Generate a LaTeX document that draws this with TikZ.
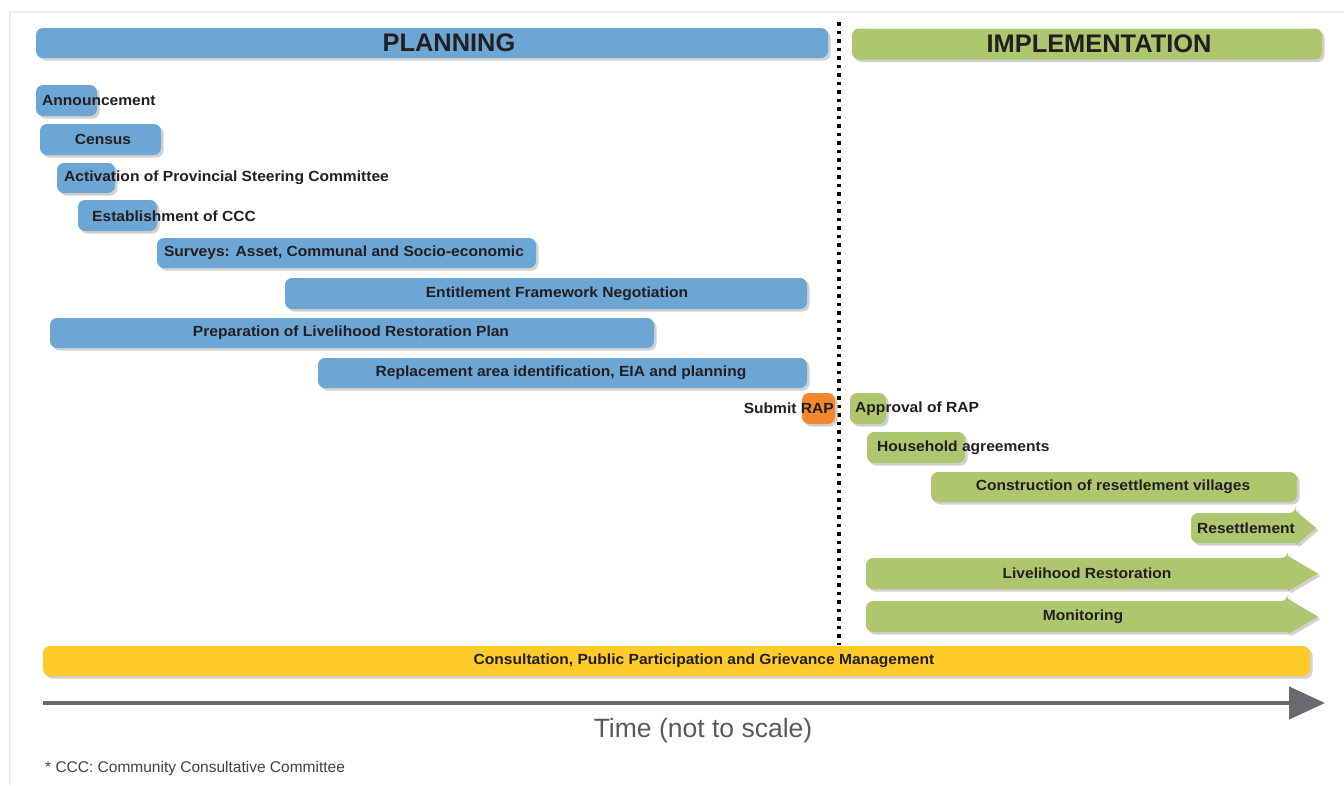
\documentclass[tikz,border=0pt]{standalone}
\usepackage{fontspec}
\setmainfont{Liberation Sans}
\newfontfamily\wideflt[FakeStretch=1.06]{Liberation Sans}
\usetikzlibrary{shadows,arrows.meta}
\definecolor{pblue}{RGB}{108,166,212}
\definecolor{igreen}{RGB}{174,199,110}
\definecolor{rorange}{RGB}{244,134,45}
\definecolor{cyellow}{RGB}{254,203,43}
\definecolor{txt}{RGB}{35,31,32}
\definecolor{axisgray}{RGB}{105,106,110}
\definecolor{framegray}{RGB}{236,236,236}
\tikzset{
  shad/.style={general shadow={fill=black!18, shadow xshift=2.5pt, shadow yshift=-2.5pt}},
  bar/.style={shad, rounded corners=7pt, inner sep=0pt, minimum height=31pt},
  bluebar/.style={bar, fill=pblue},
  greenbar/.style={bar, fill=igreen},
  lbl/.style={inner sep=0pt, text=txt, font=\wideflt\fontsize{14.7}{17}\selectfont\bfseries},
  head/.style={inner sep=0pt, text=txt, font=\fontsize{25.4}{30}\selectfont\bfseries},
}
\begin{document}
\begin{tikzpicture}[x=1pt,y=-1pt]
\useasboundingbox (0,0) rectangle (1344,785);
\fill[white] (0,0) rectangle (1344,785);
\draw[framegray, line width=1.5pt] (10,785) -- (10,12) -- (1344,12);

% phase headers
\node[bluebar, minimum width=792pt, minimum height=30pt] (plan) at (432,43) {};
\node[head] (plant) at (449,43) {PLANNING};
\node[greenbar, minimum width=470pt] (impl) at (1087,44) {};
\node[head] (implt) at (1099,44) {IMPLEMENTATION};

% divider
\coordinate (dtop) at (839,22);
\coordinate (dbot) at (839,645);
\draw[black, line width=3.5pt, dash pattern=on 3.5pt off 5pt] (dtop) -- (dbot);

% planning bars
\node[bluebar, minimum width=61pt] (ann) at (66.5,100.5) {};
\node[lbl, anchor=west] (annt) at (42,100.5) {Announcement};
\node[bluebar, minimum width=121pt] (cen) at (100.5,139.5) {};
\node[lbl] (cent) at (103,139.5) {Census};
\node[bluebar, minimum width=58pt, minimum height=30pt] (act) at (86,178) {};
\node[lbl, anchor=west] (actt) at (64,178) {Activation of Provincial Steering Committee};
\node[bluebar, minimum width=79pt] (est) at (117.5,215.5) {};
\node[lbl, anchor=west] (estt) at (92,216) {Establishment of CCC};
\node[bluebar, minimum width=379pt, minimum height=30pt] (sur) at (346.5,253) {};
\node[lbl] (surt) at (344,253) {Surveys: Asset, Communal and Socio-economic};
\node[bluebar, minimum width=522pt] (ent) at (546,293.5) {};
\node[lbl] (entt) at (557,293.5) {Entitlement Framework Negotiation};
\node[bluebar, minimum width=604pt, minimum height=30pt] (prep) at (352,333) {};
\node[lbl] (prept) at (351,333) {Preparation of Livelihood Restoration Plan};
\node[bluebar, minimum width=489pt, minimum height=30pt] (rep) at (562.5,373) {};
\node[lbl] (rept) at (561,373) {Replacement area identification, EIA and planning};

% RAP
\node[bar, fill=rorange, minimum width=33pt] (rap) at (818.5,408.5) {};
\node[lbl, anchor=east] (rapt) at (834,408.5) {Submit RAP};

% implementation bars
\node[greenbar, minimum width=36pt] (appr) at (868,408.5) {};
\node[lbl, anchor=west] (apprt) at (855,408.5) {Approval of RAP};
\node[greenbar, minimum width=98pt] (hh) at (916,447.5) {};
\node[lbl, anchor=west] (hht) at (877,448) {Household agreements};
\node[greenbar, minimum width=366pt, minimum height=30pt] (con) at (1114,487) {};
\node[lbl] (cont) at (1113,487) {Construction of resettlement villages};

% arrow-shaped bars
\fill[igreen, shad, rounded corners=7pt] (1296,543) -- (1191,543) -- (1191,513) -- (1296,513) [sharp corners] -- (1296,511) -- (1316,528) -- (1296,545) -- cycle;
\node[lbl] (rest) at (1246,528) {Resettlement};
\fill[igreen, shad, rounded corners=7pt] (1288,589) -- (866,589) -- (866,558) -- (1288,558) [sharp corners] -- (1288,556) -- (1318,573.5) -- (1288,591) -- cycle;
\node[lbl] (livt) at (1087,573.5) {Livelihood Restoration};
\fill[igreen, shad, rounded corners=7pt] (1288,632) -- (866,632) -- (866,601) -- (1288,601) [sharp corners] -- (1288,599) -- (1318,616.5) -- (1288,634) -- cycle;
\node[lbl] (mont) at (1083,616.5) {Monitoring};

% consultation
\node[bar, fill=cyellow, minimum width=1267pt, minimum height=30pt] (cons) at (676.5,661) {};
\node[lbl] (const) at (704,661) {Consultation, Public Participation and Grievance Management};

% time axis
\coordinate (ax0) at (43,703);
\coordinate (ax1) at (1325,703);
\draw[axisgray, line width=4.5pt, -{Triangle[length=36pt,width=32pt]}] (ax0) -- (ax1);
\node[inner sep=0pt, text=axisgray!85!black, font=\fontsize{26.5}{31}\selectfont] (time) at (703,731) {Time (not to scale)};

\node[inner sep=0pt, anchor=west, text=txt!85, font=\fontsize{15.5}{18}\selectfont] (foot) at (45,768) {* CCC: Community Consultative Committee};
\end{tikzpicture}
\end{document}
